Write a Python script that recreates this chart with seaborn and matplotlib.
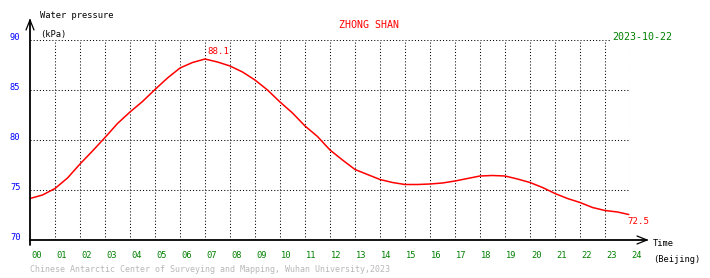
import matplotlib
matplotlib.use("Agg")
import matplotlib.pyplot as plt
import seaborn as sns
import pandas as pd
import numpy as np

# ---- data ----
hours = [0, 0.5, 1, 1.5, 2, 2.5, 3, 3.5, 4, 4.5, 5, 5.5, 6, 6.5, 7, 7.5, 8, 8.5,
         9, 9.5, 10, 10.5, 11, 11.5, 12, 12.5, 13, 13.5, 14, 14.5, 15, 15.5, 16,
         16.5, 17, 17.5, 18, 18.5, 19, 19.5, 20, 20.5, 21, 21.5, 22, 22.5, 23,
         23.5, 23.95]
pressure = [74.15, 74.5, 75.15, 76.2, 77.6, 78.9, 80.25, 81.65, 82.8, 83.85, 85.05,
            86.2, 87.2, 87.75, 88.1, 87.8, 87.4, 86.8, 86.0, 85.0, 83.8, 82.7,
            81.4, 80.35, 79.0, 78.0, 77.05, 76.55, 76.05, 75.75, 75.55, 75.55,
            75.6, 75.7, 75.9, 76.15, 76.4, 76.45, 76.4, 76.1, 75.75, 75.25, 74.65,
            74.15, 73.75, 73.25, 72.95, 72.8, 72.55]
x_tick_labels = ["%02d" % h for h in range(25)]
y_ticks = [70, 75, 80, 85, 90]
station = "ZHONG SHAN"
date_label = "2023-10-22"
max_label = "88.1"
last_label = "72.5"
footer = "Chinese Antarctic Center of Surveying and Mapping, Wuhan University,2023"

df = pd.DataFrame({"hour": hours, "pressure": pressure})

sns.set_style("white")
plt.rcParams["font.family"] = ["DejaVu Sans Mono"]

W, H = 710, 278
fig = plt.figure(figsize=(W / 100, H / 100), dpi=100)
ax = fig.add_axes([30 / W, (H - 240) / H, 600 / W, 200 / H])
ax.set_xlim(0, 24)
ax.set_ylim(70, 90)

# grid (dotted)
for h in range(1, 25):
    ax.axvline(h, color="black", lw=0.75, ls=(0, (1, 2)), zorder=1)
for v in y_ticks[1:]:
    ax.axhline(v, color="black", lw=0.75, ls=(0, (1, 2)), zorder=1)

sns.lineplot(data=df, x="hour", y="pressure", ax=ax, color="red", lw=1.1,
             zorder=3, legend=False)

for s in ax.spines.values():
    s.set_visible(False)
ax.set_xticks([])
ax.set_yticks([])
ax.set_xlabel("")
ax.set_ylabel("")

fs = 6.3
# y tick labels
for v in y_ticks:
    ax.text(-0.38, v, str(v), color="#0000ff", fontsize=fs, ha="right", va="baseline",
            clip_on=False)
# x tick labels
for h, lab in enumerate(x_tick_labels):
    ax.text(h + 0.05, 68.45, lab, color="#008000", fontsize=fs, ha="left", va="center",
            clip_on=False)

# peak & last labels
imax = int(np.argmax(pressure))
ax.text(hours[imax] + 0.1, pressure[imax] + 0.3, max_label, color="red", fontsize=fs + 0.3,
        ha="left", va="bottom", zorder=4)
ax.text(hours[-1] - 0.05, pressure[-1] - 0.2, last_label, color="red", fontsize=fs + 0.3,
        ha="left", va="top", zorder=4, clip_on=False)

# axes with arrows (figure pixel coords)
def fx(px):
    return px / W

def fy(py):
    return (H - py) / H

fig.add_artist(plt.Line2D([fx(30), fx(30)], [fy(245), fy(20)], color="black", lw=1.3))
fig.add_artist(plt.Line2D([fx(26), fx(30), fx(34)], [fy(30), fy(20), fy(30)], color="black", lw=0.9))
fig.add_artist(plt.Line2D([fx(30), fx(647)], [fy(240), fy(240)], color="black", lw=1.3))
fig.add_artist(plt.Line2D([fx(637), fx(647), fx(637)], [fy(236), fy(240), fy(244)], color="black", lw=0.9))

# texts
fig.text(fx(40), fy(16), "Water pressure", fontsize=fs, color="black", va="center", ha="left")
fig.text(fx(40), fy(34), "(kPa)", fontsize=fs, color="black", va="center", ha="left")
fig.text(fx(369), fy(25), station, fontsize=7.2, color="red", va="center", ha="center")
fig.text(fx(612), fy(37), date_label, fontsize=7.2, color="#008000", va="center", ha="left",
         bbox=dict(facecolor="white", edgecolor="none", pad=0.6))
fig.text(fx(653), fy(244), "Time", fontsize=fs, color="black", va="center", ha="left")
fig.text(fx(653), fy(260), "(Beijing)", fontsize=fs, color="black", va="center", ha="left")
fig.text(fx(30), fy(270), footer, fontsize=6.0, color="#b8b8b8", va="center", ha="left")

fig.savefig("out.png", dpi=100, facecolor="white")
